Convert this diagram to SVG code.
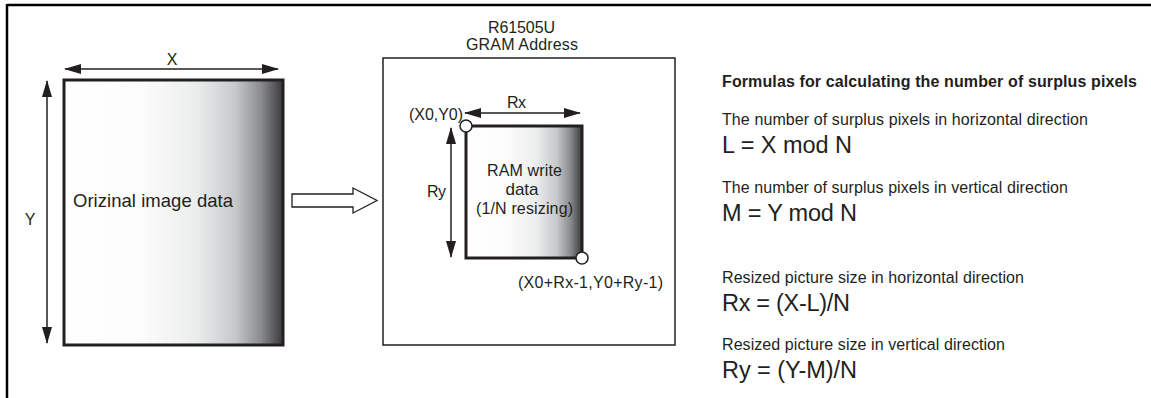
<svg xmlns="http://www.w3.org/2000/svg" width="1151" height="398" viewBox="0 0 1151 398">
<style>
text{font-family:"Liberation Sans",Arial,sans-serif;fill:#231f20}
.s16{font-size:16px}
.big{font-size:23.5px}
.dim{stroke:#231f20;stroke-width:1.5;fill:none}
.thick{stroke:#231f20;stroke-width:3}
</style>
<defs>
<linearGradient id="g" x1="0" y1="0" x2="1" y2="0">
<stop offset="0" stop-color="#ffffff"/>
<stop offset="0.35" stop-color="#fcfcfc"/>
<stop offset="0.6" stop-color="#eceded"/>
<stop offset="0.78" stop-color="#c8c9cb"/>
<stop offset="0.9" stop-color="#8a8b8e"/>
<stop offset="1" stop-color="#3a3a3c"/>
</linearGradient>
<marker id="ah" viewBox="0 0 17 10" refX="16" refY="5" markerWidth="17" markerHeight="10" markerUnits="userSpaceOnUse" orient="auto-start-reverse">
<path d="M0,0 L17,5 L0,10 Z" fill="#231f20"/>
</marker>
</defs>
<g id="frame">
<line x1="7" y1="5" x2="1151" y2="5" stroke="#000" stroke-width="2.5"/>
<line x1="7" y1="4" x2="7" y2="398" stroke="#000" stroke-width="2.5"/>
</g>
<g id="original-image">
<rect x="64" y="80" width="219" height="265" fill="url(#g)" class="thick"/>
<text x="73" y="207" style="font-size:18.5px" textLength="160">Orizinal image data</text>
<text x="172" y="65" class="s16" text-anchor="middle">X</text>
<text x="30" y="225" class="s16" text-anchor="middle">Y</text>
</g>
<g id="gram">
<rect x="383" y="58" width="292" height="287" fill="#fff" stroke="#231f20" stroke-width="1.5"/>
<text x="488" y="33" class="s16" textLength="67">R61505U</text>
<text x="466" y="50" class="s16" textLength="112">GRAM Address</text>
</g>
<g id="ram-write">
<rect x="466" y="126" width="116" height="132" fill="url(#g)" class="thick"/>
<text x="487" y="176" class="s16" textLength="75">RAM write</text>
<text x="522" y="195" style="font-size:17px" text-anchor="middle">data</text>
<text x="476" y="214" class="s16" textLength="97">(1/N resizing)</text>
<circle cx="466" cy="126" r="6" fill="#fff" stroke="#231f20" stroke-width="1.5"/>
<circle cx="582" cy="258" r="6" fill="#fff" stroke="#231f20" stroke-width="1.5"/>
<text x="409" y="120" class="s16" textLength="54">(X0,Y0)</text>
<text x="518" y="288" class="s16" textLength="145">(X0+Rx-1,Y0+Ry-1)</text>
<text x="507" y="108" class="s16" textLength="19">Rx</text>
<text x="427" y="197" class="s16" textLength="19">Ry</text>
</g>
<g id="connectors">
<line x1="65" y1="69" x2="278" y2="69" class="dim" marker-start="url(#ah)" marker-end="url(#ah)"/>
<line x1="47" y1="81" x2="47" y2="343" class="dim" marker-start="url(#ah)" marker-end="url(#ah)"/>
<line x1="465" y1="113" x2="580" y2="113" class="dim" marker-start="url(#ah)" marker-end="url(#ah)"/>
<line x1="451" y1="128" x2="451" y2="257" class="dim" marker-start="url(#ah)" marker-end="url(#ah)"/>
<path d="M292,194 L353,194 L353,188 L377,200.5 L353,213 L353,207 L292,207 Z" fill="#fff" stroke="#231f20" stroke-width="1.3"/>
</g>
<g id="formulas">
<text x="722" y="87" class="s16" font-weight="bold" textLength="415">Formulas for calculating the number of surplus pixels</text>
<text x="722" y="125" class="s16" textLength="366">The number of surplus pixels in horizontal direction</text>
<text x="722" y="153" class="big" textLength="130">L = X mod N</text>
<text x="722" y="193" class="s16" textLength="346">The number of surplus pixels in vertical direction</text>
<text x="722" y="221" class="big" textLength="135">M = Y mod N</text>
<text x="722" y="283" class="s16" textLength="302">Resized picture size in horizontal direction</text>
<text x="722" y="311" class="big" textLength="128">Rx = (X-L)/N</text>
<text x="722" y="350" class="s16" textLength="283">Resized picture size in vertical direction</text>
<text x="722" y="378" class="big" textLength="135">Ry = (Y-M)/N</text>
</g>
</svg>
